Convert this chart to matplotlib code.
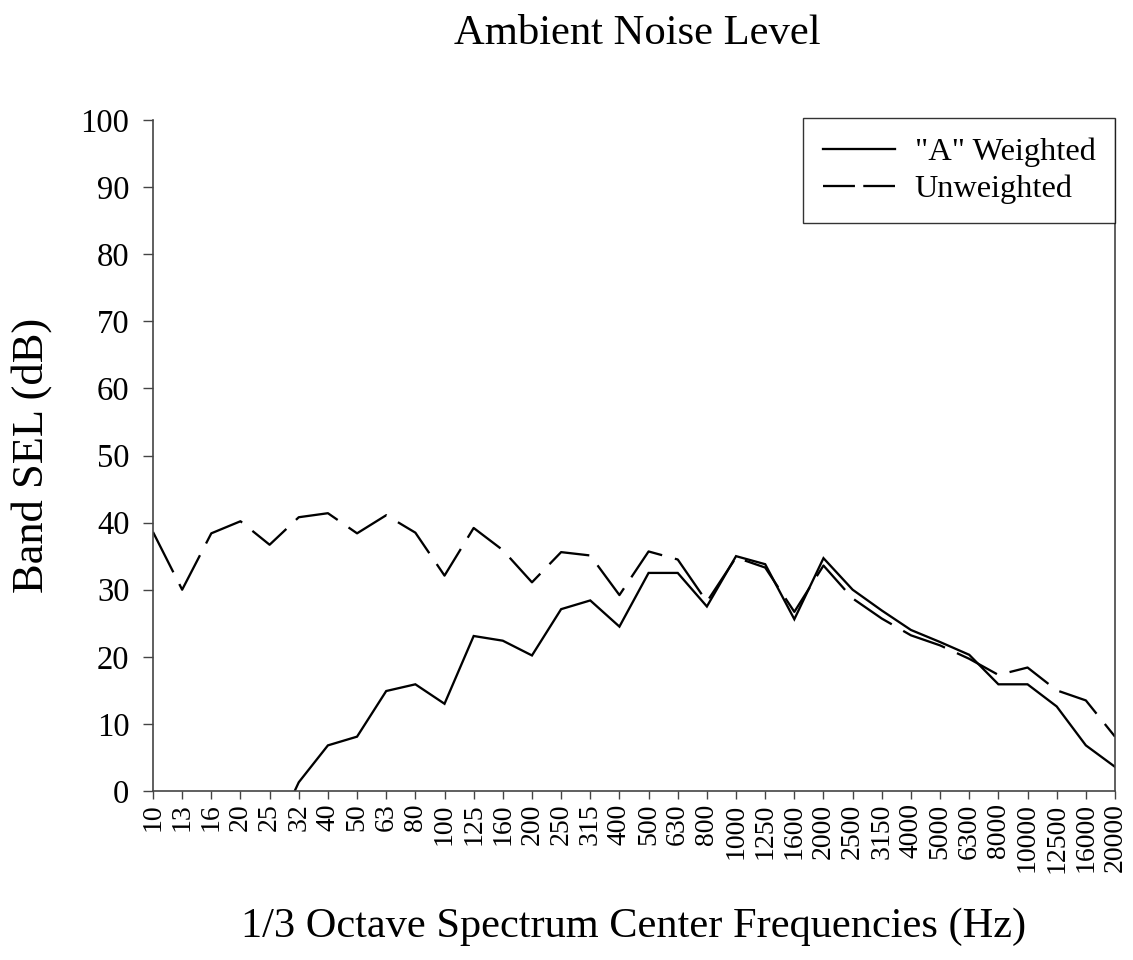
import matplotlib
matplotlib.use("Agg")
import matplotlib.pyplot as plt
from matplotlib.lines import Line2D
import numpy as np

plt.rcParams['font.family'] = ['Liberation Serif', 'DejaVu Serif']
plt.rcParams['lines.scale_dashes'] = False

freqs = ["10", "13", "16", "20", "25", "32", "40", "50", "63", "80", "100", "125",
         "160", "200", "250", "315", "400", "500", "630", "800", "1000", "1250",
         "1600", "2000", "2500", "3150", "4000", "5000", "6300", "8000", "10000",
         "12500", "16000", "20000"]

a_weighted = [-31.8, -33.4, -18.3, -10.3, -8.0, 1.3, 6.8, 8.1, 14.9, 15.9, 13.0, 23.1,
              22.4, 20.2, 27.1, 28.4, 24.5, 32.5, 32.5, 27.5, 35.0, 33.8,
              25.6, 34.7, 30.0, 26.9, 24.0, 22.2, 20.3, 15.9, 15.9,
              12.6, 6.8, 3.6]

unweighted = [38.6, 30.0, 38.4, 40.2, 36.7, 40.8, 41.4, 38.4, 41.1, 38.5, 32.1, 39.2,
              35.9, 31.1, 35.6, 35.1, 29.2, 35.7, 34.5, 28.2, 34.8, 33.3,
              26.7, 33.6, 28.7, 25.7, 23.2, 21.7, 19.7, 17.3, 18.4,
              15.0, 13.5, 8.1]

fig = plt.figure(figsize=(11.33, 9.6), dpi=100)
ax = fig.add_axes([153/1133, 1-791/960, (1115-153)/1133, (791-120)/960])

x = np.arange(len(freqs))
lw = 1.65
ax.plot(x, a_weighted, color='black', lw=lw, solid_joinstyle='miter')
ax.plot(x, unweighted, color='black', lw=lw, dashes=(32.5, 9.5), dash_capstyle='butt')

ax.set_xlim(0, len(freqs) - 1)
ax.set_ylim(0, 100)
ax.set_xticks(x)
ax.set_xticklabels(freqs, rotation=90, fontsize=20)
ax.set_yticks(np.arange(0, 101, 10))
ax.tick_params(axis='y', labelsize=23.5, direction='out', length=7, width=1, pad=10, color='#444444')
ax.tick_params(axis='x', labelsize=20, direction='out', length=6, width=1, pad=3, color='#444444')

for s in ['left', 'bottom', 'right']:
    ax.spines[s].set_color('#444444')
    ax.spines[s].set_linewidth(1.2)
ax.spines['top'].set_visible(False)

ax.set_ylabel("Band SEL (dB)", fontsize=32)
ax.yaxis.set_label_coords((32 - 153) / 962, 0.5)
ax.yaxis.label.set_va('center')
ax.set_xlabel("1/3 Octave Spectrum Center Frequencies (Hz)", fontsize=30.5)
ax.xaxis.set_label_coords(0.5, (791 - 927) / 671)
ax.xaxis.label.set_va('center')
fig.text(637/1133, 1-34/960, "Ambient Noise Level", fontsize=30.7, ha='center', va='center')

h1 = Line2D([], [], color='black', lw=lw)
h2 = Line2D([], [], color='black', lw=lw, dashes=(23, 6), dash_capstyle='butt')
leg = ax.legend([h1, h2], ['"A" Weighted', 'Unweighted'], loc='upper right',
                bbox_to_anchor=(1.0, 1.003), borderaxespad=0, fontsize=23.3,
                frameon=True, fancybox=False, handlelength=2.22, handletextpad=0.62,
                labelspacing=0.22, borderpad=0.6)
leg.get_frame().set_edgecolor('black')
leg.get_frame().set_linewidth(1.0)

fig.savefig("out.png", dpi=100)
